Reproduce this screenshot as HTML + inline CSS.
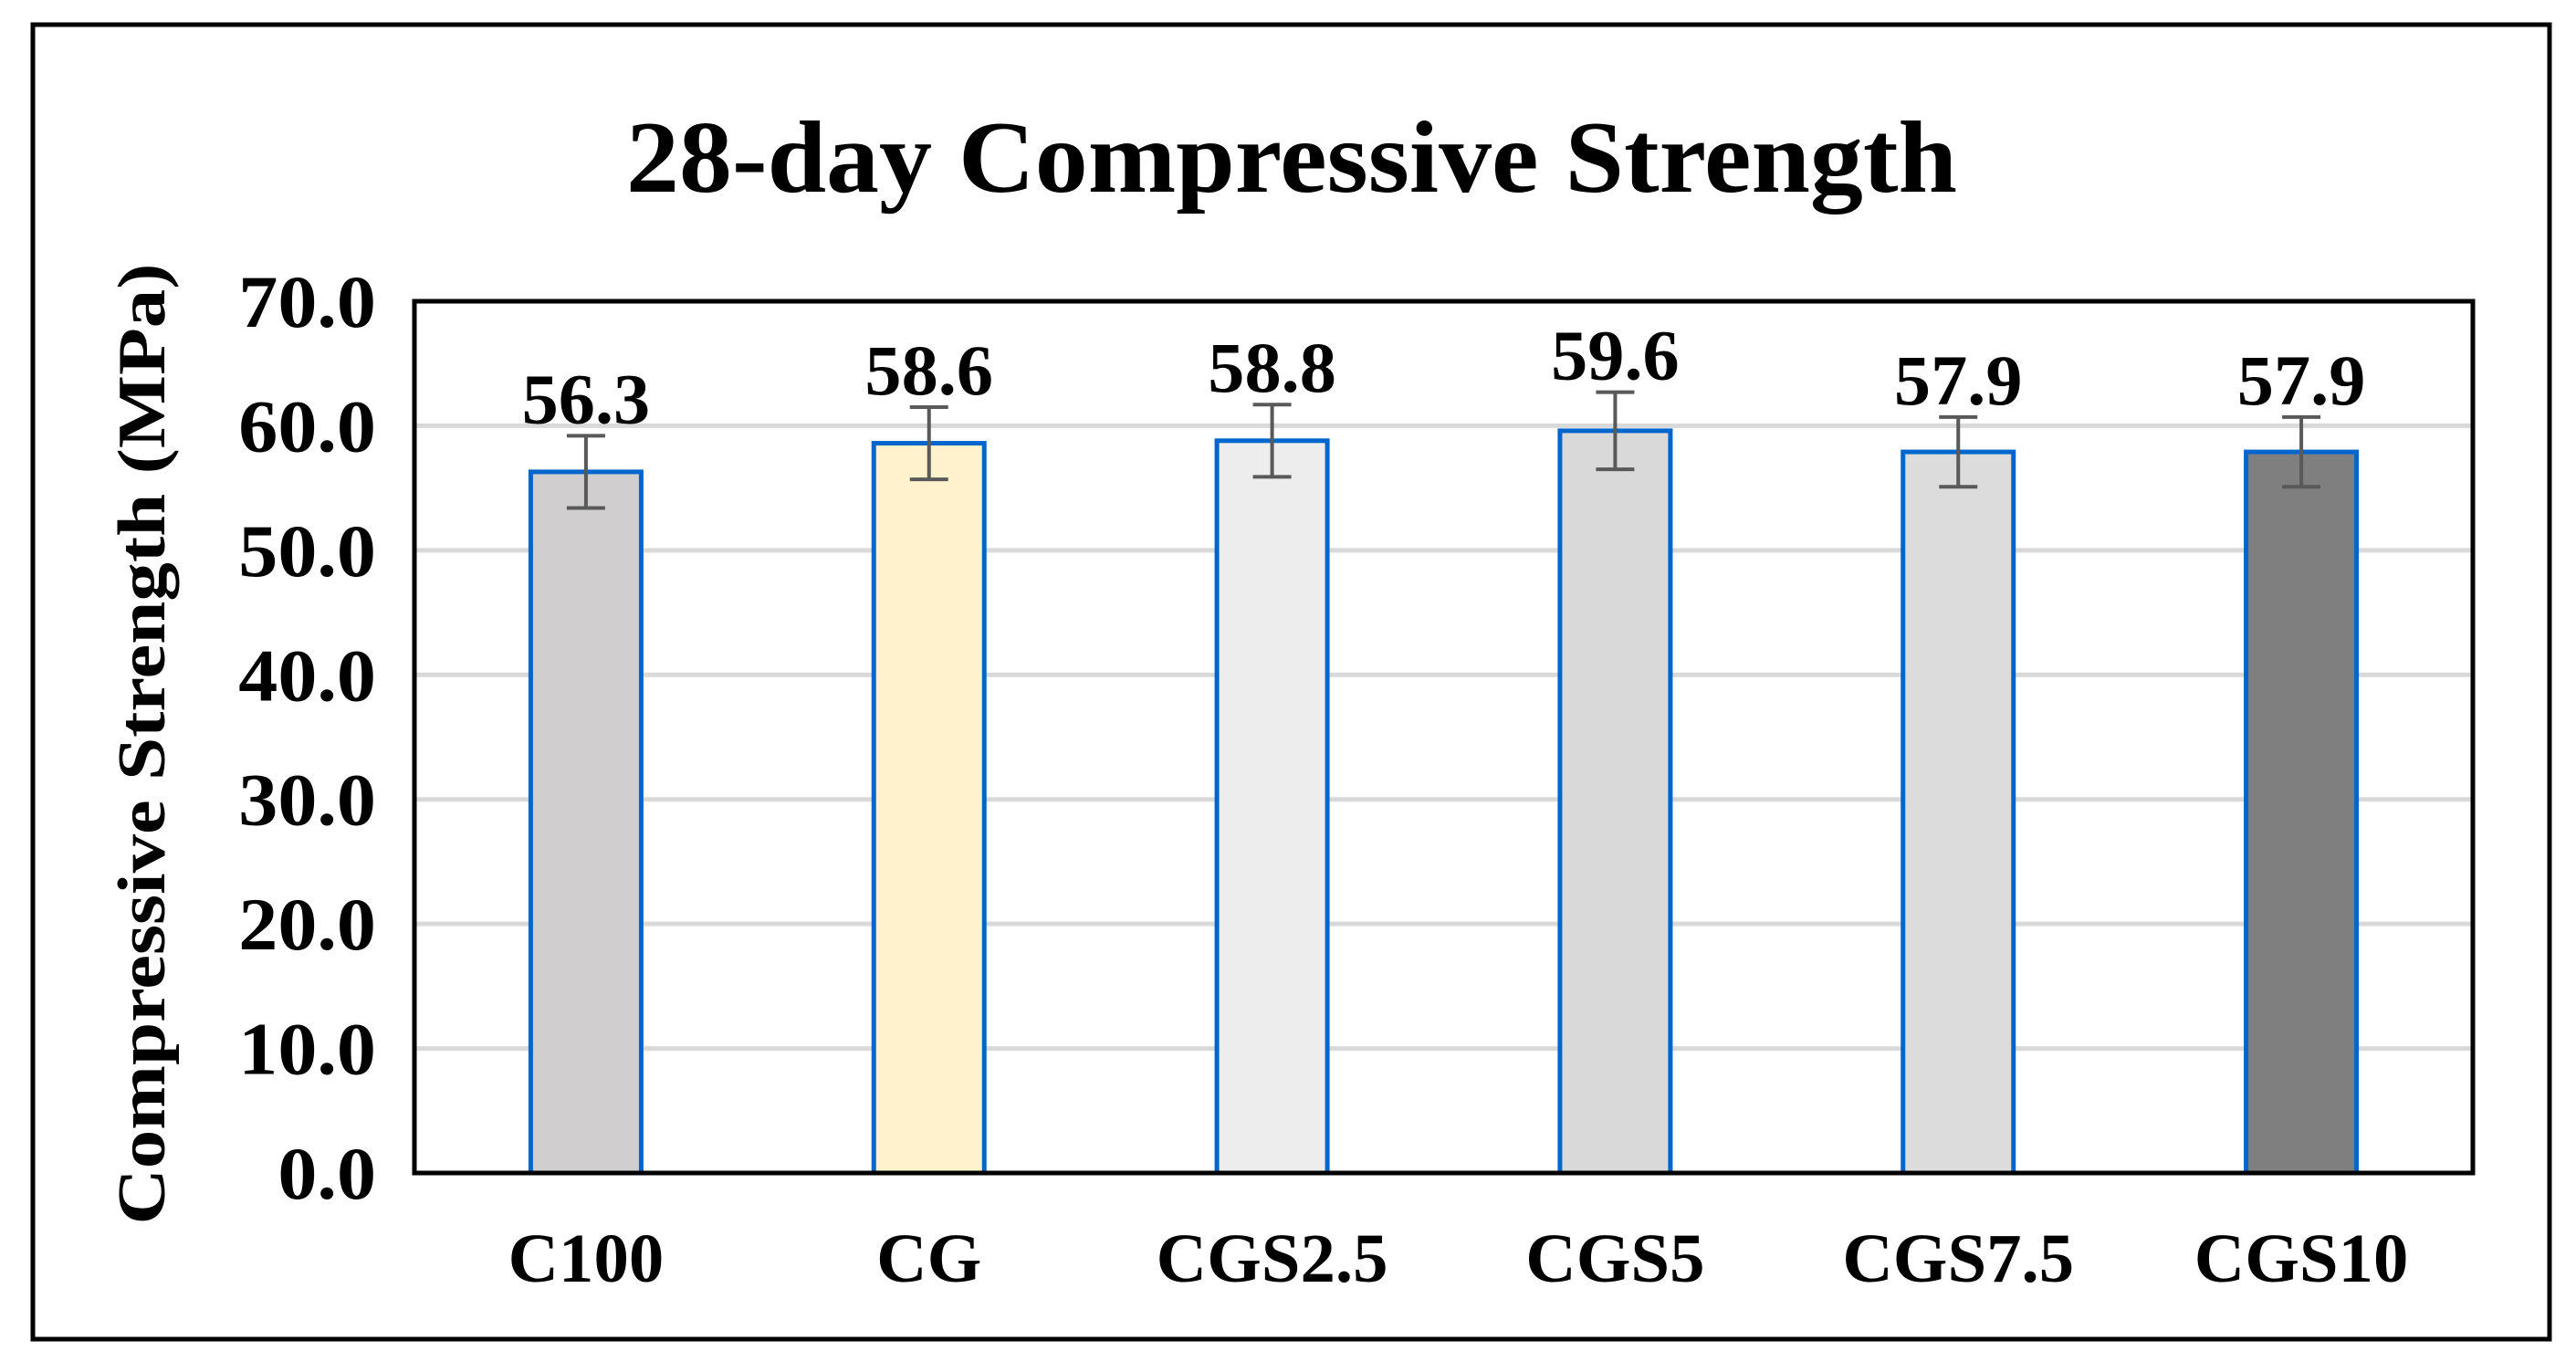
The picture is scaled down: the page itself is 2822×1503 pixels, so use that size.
<!DOCTYPE html>
<html><head><meta charset="utf-8"><style>
html,body{margin:0;padding:0;background:#fff;}
svg{display:block;font-family:"Liberation Serif",serif;font-weight:bold;}
</style></head><body>
<svg id="chart" width="2822" height="1503" viewBox="0 0 2822 1503" xmlns="http://www.w3.org/2000/svg">
<rect x="36" y="27" width="2757" height="1440" fill="#fff" stroke="#000" stroke-width="5"/>
<text x="1415" y="210" font-size="112" text-anchor="middle" textLength="1458" lengthAdjust="spacingAndGlyphs">28-day Compressive Strength</text>
<text transform="translate(180,815) rotate(-90)" font-size="74" text-anchor="middle" textLength="1053" lengthAdjust="spacingAndGlyphs">Compressive Strength (MPa)</text>
<g id="grid"></g>
<g id="bars"></g>
<g id="ticks"></g>
<rect x="454" y="330" width="2255" height="955" fill="none" stroke="#000" stroke-width="5"/>
</svg>
<script>
const categories = ["C100","CG","CGS2.5","CGS5","CGS7.5","CGS10"];
const values = [56.3,58.6,58.8,59.6,57.9,57.9];
const errors = [2.9,2.9,2.9,3.1,2.8,2.8];
const valueLabels = ["56.3","58.6","58.8","59.6","57.9","57.9"];
const fills = ["#d0cece","#fff2cc","#ededed","#d9d9d9","#dcdcdc","#7f7f7f"];
const yTicks = [0,10,20,30,40,50,60,70];
const yTickLabels = ["0.0","10.0","20.0","30.0","40.0","50.0","60.0","70.0"];

const NS="http://www.w3.org/2000/svg";
const L=454,R=2709,T=330,B=1285,YMAX=70;
const y=v=>B-(v/YMAX)*(B-T);
const bw=(R-L)/categories.length;
const x=i=>L+bw*(i+0.5);
function mk(tag,attrs,parent){const e=document.createElementNS(NS,tag);for(const k in attrs)e.setAttribute(k,attrs[k]);parent.appendChild(e);return e;}
function stretch(t,f){const w=t.getComputedTextLength();t.setAttribute('textLength',w*f);t.setAttribute('lengthAdjust','spacingAndGlyphs');}
const grid=document.getElementById('grid'),bars=document.getElementById('bars'),ticks=document.getElementById('ticks');
yTicks.forEach((t,i)=>{
  const g=mk('line',{x1:L,x2:R,y1:y(t),y2:y(t),stroke:'#d9d9d9','stroke-width':5},grid);
  
  
  const tl=mk('text',{x:412,y:y(t)+28,'font-size':82,'text-anchor':'end'},ticks);
  tl.textContent=yTickLabels[i];
  
  
  stretch(tl,1.05);
});
const W=121;
categories.forEach((c,i)=>{
  const cx=x(i),top=y(values[i]);
  const r=mk('rect',{x:cx-W/2,y:top,width:W,height:B-top,fill:fills[i],stroke:'#0066cc','stroke-width':5},bars);
  
  
  const e1=y(values[i]+errors[i]),e2=y(values[i]-errors[i]);
  const eb=mk('path',{d:`M${cx},${e1}V${e2}M${cx-21},${e1}H${cx+21}M${cx-21},${e2}H${cx+21}`,stroke:'#595959','stroke-width':4,fill:'none'},bars);
  
  
  const vl=mk('text',{x:cx,y:e1-14,'font-size':78,'text-anchor':'middle'},bars);
  vl.textContent=valueLabels[i];
  
  
  stretch(vl,1.03);
  const cl=mk('text',{x:cx,y:1404,'font-size':76,'text-anchor':'middle'},ticks);
  cl.textContent=c;
  
  
  stretch(cl,1.01);
});
</script>
</body></html>
